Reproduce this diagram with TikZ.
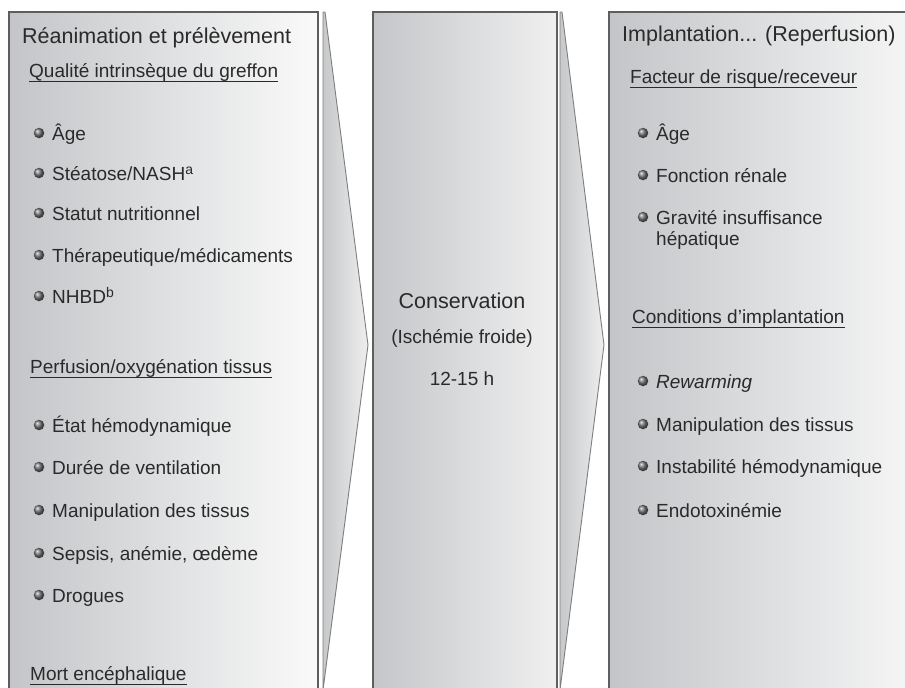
\documentclass[tikz,border=0pt]{standalone}
\usepackage{fontspec}
\setmainfont{Liberation Sans}
\definecolor{txt}{HTML}{2A2A2A}
\definecolor{bordergray}{HTML}{5E5E5E}
\definecolor{panelL}{HTML}{C3C5C8}
\definecolor{panelR}{HTML}{FAFAFA}
\definecolor{midL}{HTML}{C4C6C9}
\definecolor{midR}{HTML}{F0F0F0}
\definecolor{arrL}{HTML}{C6C8CA}
\definecolor{arrR}{HTML}{EEEEEE}
\definecolor{bulgray}{HTML}{727272}
\newcommand\bitem[4]{%
  \node[bul] (#1b) at (#2-13,#3-7) {};
  \node[itm] (#1) at (#2,#3) {#4};}
\newcommand\supr[1]{\raisebox{6pt}{\fontsize{14}{16}\selectfont #1}}
\begin{document}
\begin{tikzpicture}[x=1pt,y=-1pt,
  panel/.style={draw=bordergray, line width=1.3pt, left color=panelL, right color=panelR},
  midpanel/.style={draw=bordergray, line width=1.3pt, left color=midL, right color=midR},
  arrowshape/.style={draw=bordergray!80, line width=0.9pt, line join=round, left color=arrL, right color=arrR},
  ttl/.style={font=\fontsize{21.5}{24}\selectfont, text=txt, inner sep=0pt, anchor=base west},
  sub/.style={font=\fontsize{19}{22}\selectfont, text=txt, inner sep=0pt, anchor=base west},
  itm/.style={font=\fontsize{19}{22}\selectfont, text=txt, inner sep=0pt, anchor=base west},
  mid/.style={text=txt, inner sep=0pt, anchor=base},
  uline/.style={draw=txt, line width=0.9pt},
  bul/.style={circle, inner sep=0pt, minimum size=10.5pt, shading=ball, ball color=bulgray}]
\useasboundingbox (0,0) rectangle (905,688);
\clip (0,0) rectangle (905,688);
\fill[white] (0,0) rectangle (905,688);

% panels and arrow shapes
\path[panel] (9,12) rectangle (318,720);
\path[arrowshape] (323,12) -- (325,12) -- (368,345) -- (323,690) -- (323,720) -- cycle;
\path[midpanel] (373,12) rectangle (557,720);
\path[arrowshape] (560,12) -- (562,12) -- (604,345) -- (560,690) -- (560,720) -- cycle;
\path[panel] (609,12) rectangle (940,720);

% left panel
\node[ttl] (t1) at (22,43) {Réanimation et prélèvement};
\node[sub] (s1) at (29,77) {Qualité intrinsèque du greffon};
\draw[uline] ([yshift=-4pt]s1.base west) -- ([yshift=-4pt]s1.base east);
\bitem{a1}{52}{140}{Âge}
\bitem{a2}{52}{180}{Stéatose/NASH\supr{a}}
\bitem{a3}{52}{220}{Statut nutritionnel}
\bitem{a4}{52}{262}{Thérapeutique/médicaments}
\bitem{a5}{52}{303}{NHBD\supr{b}}
\node[sub] (s2) at (30,373) {Perfusion/oxygénation tissus};
\draw[uline] ([yshift=-4pt]s2.base west) -- ([yshift=-4pt]s2.base east);
\bitem{a6}{52}{432}{État hémodynamique}
\bitem{a7}{52}{474}{Durée de ventilation}
\bitem{a8}{52}{517}{Manipulation des tissus}
\bitem{a9}{52}{560}{Sepsis, anémie, œdème}
\bitem{a10}{52}{602}{Drogues}
\node[sub] (s3) at (30,680) {Mort encéphalique};
\draw[uline] ([yshift=-4pt]s3.base west) -- ([yshift=-4pt]s3.base east);

% middle panel
\node[mid, font=\fontsize{21.5}{24}\selectfont] (m1) at (462,308) {Conservation};
\node[mid, font=\fontsize{19}{22}\selectfont] (m2) at (462,343) {(Ischémie froide)};
\node[mid, font=\fontsize{19}{22}\selectfont] (m3) at (462,385) {12-15 h};

% right panel
\node[ttl] (t3) at (622,41) {Implantation... (Reperfusion)};
\node[sub] (s4) at (630,83) {Facteur de risque/receveur};
\draw[uline] ([yshift=-4pt]s4.base west) -- ([yshift=-4pt]s4.base east);
\bitem{c1}{656}{140}{Âge}
\bitem{c2}{656}{182}{Fonction rénale}
\bitem{c3}{656}{224}{Gravité insuffisance}
\node[itm] (c3x) at (656,245) {hépatique};
\node[sub] (s5) at (632,323) {Conditions d’implantation};
\draw[uline] ([yshift=-4pt]s5.base west) -- ([yshift=-4pt]s5.base east);
\bitem{c4}{656}{388}{\itshape Rewarming}
\bitem{c5}{656}{431}{Manipulation des tissus}
\bitem{c6}{656}{473}{Instabilité hémodynamique}
\bitem{c7}{656}{517}{Endotoxinémie}
\end{tikzpicture}
\end{document}
